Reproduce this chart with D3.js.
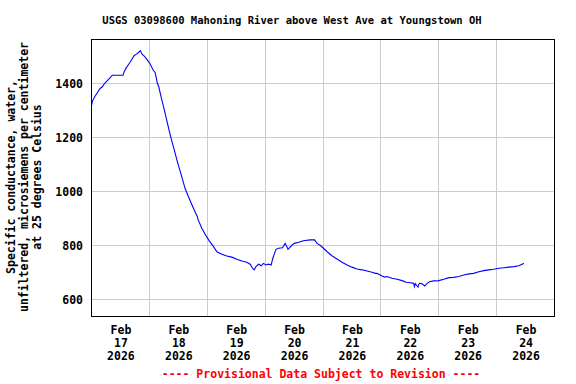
<!DOCTYPE html>
<html><head><meta charset="utf-8">
<script src="https://cdn.jsdelivr.net/npm/d3@7"></script>
<style>
html,body{margin:0;padding:0;background:#fff;}
svg{display:block;}
text{font-family:"DejaVu Sans Mono","Liberation Mono",monospace;font-weight:bold;fill:#000;}
</style></head>
<body>
<script>
// ---- data ----
const title = "USGS 03098600 Mahoning River above West Ave at Youngstown OH";
const yLabelLines = ["Specific conductance, water,", "unfiltered, microsiemens per centimeter", "at 25 degrees Celsius"];
const footer = "---- Provisional Data Subject to Revision ----";
const startDate = [2026, 1, 17];
const endDate = [2026, 1, 25];
const yTicks = [600, 800, 1000, 1200, 1400];
// hours after 2026-02-17 00:00
const hours = [0, 0.4, 1.33, 2.28, 3.4, 4.48, 5.48, 6.56, 7.56, 8.64, 13.08, 13.5, 14.45, 15.86, 16.82, 17.65, 18.6, 19.6, 20.26, 20.97, 22.09, 23.17, 24.17, 25.54, 26.37, 26.9, 27.3, 27.9, 28.85, 30.1, 31.47, 32.9, 34.26, 35.6, 37.0, 38.8, 40.2, 42.27, 43.0, 43.9, 44.2, 45.7, 47.3, 48.7, 50.6, 52.0, 54.06, 56.1, 58.2, 60.3, 62.4, 64.4, 65.8, 66.8, 67.5, 68.2, 69.3, 70.4, 71.3, 72.3, 73.4, 74.5, 75.2, 76.5, 77.6, 79.2, 80.3, 81.5, 83.1, 84.1, 85.9, 87.9, 90.7, 92.5, 93.5, 94.9, 96.2, 97.7, 99.7, 101.8, 103.9, 106.0, 108.0, 110.1, 112.2, 114.3, 116.3, 117.7, 118.4, 119.1, 120.5, 121.6, 122.6, 124.6, 126.7, 128.8, 130.5, 132.2, 133.6, 133.9, 134.3, 135.0, 135.4, 135.7, 136.1, 137.1, 138.2, 139.2, 140.1, 141.9, 144.0, 146.1, 148.2, 150.2, 152.3, 154.4, 156.5, 158.5, 160.6, 162.7, 164.8, 166.8, 168.9, 171.0, 173.1, 175.2, 177.2, 178.6, 179.3];
const values = [1317, 1334, 1350, 1363, 1379, 1387, 1400, 1410, 1419, 1430, 1430, 1442, 1458, 1476, 1490, 1502, 1508, 1515, 1521, 1508, 1499, 1486, 1474, 1449, 1440, 1419, 1400, 1387, 1350, 1305, 1252, 1200, 1155, 1110, 1067, 1011, 980, 937, 922, 906, 895, 864, 838, 818, 795, 776, 767, 760, 756, 748, 742, 737, 730, 715, 709, 721, 730, 724, 733, 727, 730, 727, 752, 785, 789, 791, 807, 785, 800, 807, 811, 817, 820, 820, 807, 799, 789, 776, 761, 749, 737, 727, 719, 712, 709, 705, 700, 696, 696, 693, 686, 682, 684, 678, 674, 669, 663, 661, 659, 647, 658, 649, 645, 655, 659, 657, 649, 659, 665, 668, 669, 674, 680, 681, 684, 690, 694, 696, 702, 706, 709, 711, 715, 717, 719, 721, 724, 730, 733];

// ---- chart ----
const W = 576, H = 384;
const t0 = new Date(startDate[0], startDate[1], startDate[2]);
const t1 = new Date(endDate[0], endDate[1], endDate[2]);
const data = hours.map((h, i) => ({ t: new Date(t0.getTime() + h * 3600e3), v: values[i] }));

const L = 91.5, R = 554.5, T = 39.5, B = 316.5;
const x = d3.scaleTime().domain([t0, t1]).range([L, R]);
const y = d3.scaleLinear().domain([538, 1564]).range([316, 39]);

const svg = d3.select("body").append("svg").attr("width", W).attr("height", H);
svg.append("rect").attr("width", W).attr("height", H).attr("fill", "#fff");

const snap = v => Math.round(v - 0.5) + 0.5;

// gridlines
const midnights = d3.timeDay.range(d3.timeDay.offset(t0, 1), t1);
svg.append("g").selectAll("line").data(midnights).join("line")
  .attr("x1", d => snap(x(d))).attr("x2", d => snap(x(d)))
  .attr("y1", T).attr("y2", B)
  .attr("stroke", "#cccccc").attr("stroke-width", 1);
svg.append("g").selectAll("line").data(yTicks).join("line")
  .attr("x1", L).attr("x2", R)
  .attr("y1", d => snap(y(d))).attr("y2", d => snap(y(d)))
  .attr("stroke", "#cccccc").attr("stroke-width", 1);

// data line
svg.append("path").datum(data)
  .attr("fill", "none").attr("stroke", "#0000ff").attr("stroke-width", 1.1)
  .attr("d", d3.line().x(d => x(d.t)).y(d => y(d.v)));

// border
svg.append("rect").attr("x", L).attr("y", T).attr("width", R - L).attr("height", B - T)
  .attr("fill", "none").attr("stroke", "#000").attr("stroke-width", 1);

// y axis labels
const yAxis = d3.axisLeft(y).tickValues(yTicks).tickSize(0).tickPadding(0).tickFormat(d3.format("d"));
const gy = svg.append("g").attr("transform", "translate(83,0)").call(yAxis);
gy.select(".domain").remove();
gy.selectAll("text").attr("font-size", "11.5px").attr("font-family", null).attr("dy", "0.38em");

// x axis labels (noon of each day)
const noons = d3.timeDay.range(t0, t1).map(d => d3.timeHour.offset(d, 12));
const xAxis = d3.axisBottom(x).tickValues(noons).tickSize(0).tickPadding(0).tickFormat(() => "");
const gx = svg.append("g").attr("transform", "translate(0,334)").call(xAxis);
gx.select(".domain").remove();
const fmt = [d3.timeFormat("%b"), d3.timeFormat("%-d"), d3.timeFormat("%Y")];
gx.selectAll(".tick text").attr("font-size", "11.5px").attr("font-family", null).attr("y", 0).attr("dy", 0)
  .each(function(d) {
    const t = d3.select(this);
    fmt.forEach((f, i) => t.append("tspan").attr("x", 0).attr("y", i * 13).text(f(d)));
  });

// title
svg.append("text").attr("x", 292).attr("y", 24).attr("text-anchor", "middle")
  .attr("font-size", "10.5px").text(title);

// y label
const yl = svg.append("text").attr("transform", "translate(0,177) rotate(-90)")
  .attr("text-anchor", "middle").attr("font-size", "11.5px");
const ylx = [15, 28, 41];
yLabelLines.forEach((s, i) => yl.append("tspan").attr("x", 0).attr("y", ylx[i]).text(s));

// footer
svg.append("text").attr("x", 321).attr("y", 378).attr("text-anchor", "middle")
  .attr("font-size", "11.5px").style("fill", "#ff0000").text(footer);
</script>
</body></html>
